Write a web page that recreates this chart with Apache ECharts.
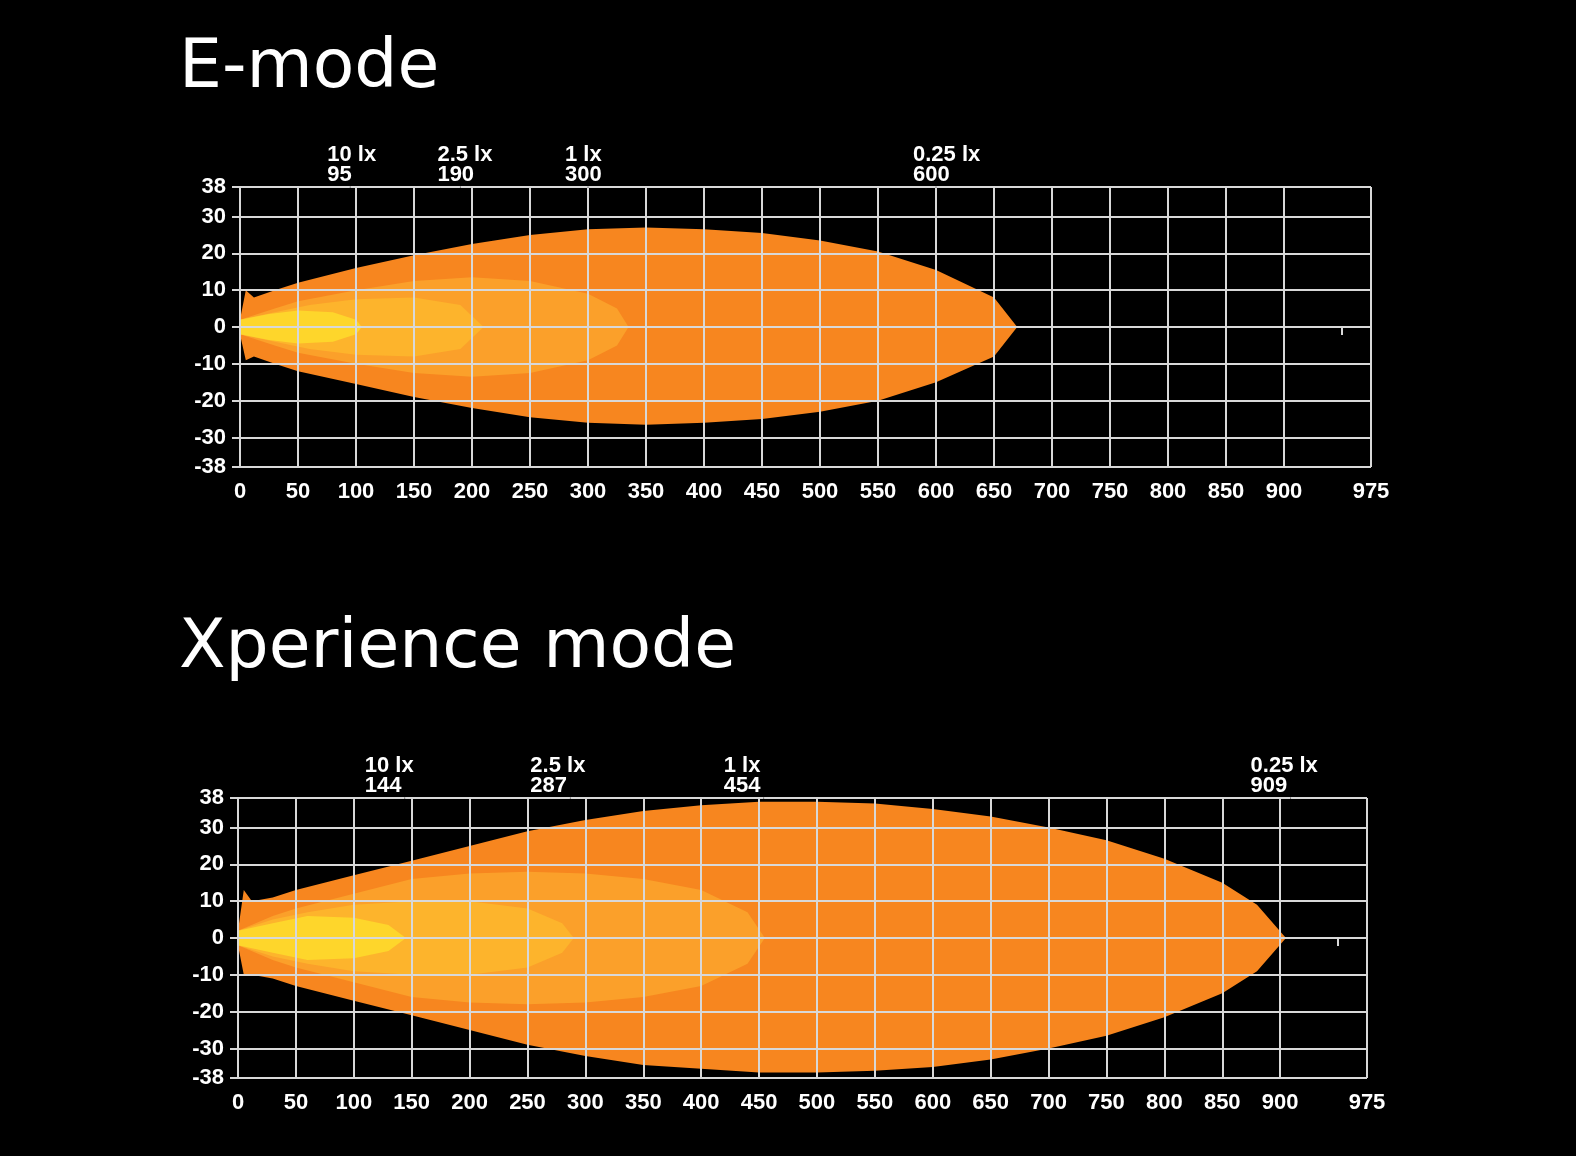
<!DOCTYPE html>
<html>
<head>
<meta charset="utf-8">
<script src="https://cdn.jsdelivr.net/npm/echarts@6/dist/echarts.min.js"></script>
<style>
html, body { margin: 0; padding: 0; background: #000; }
#chart { width: 1576px; height: 1156px; }
</style>
</head>
<body>
<div id="chart"></div>
<script>
// contour profiles: [distance, upper half width, lower half width]
var eOuter = [[0,2,-2],[5,10,-9],[12,8,-8],[30,10,-10],[50,12,-12],[100,16,-15.5],[150,19.5,-19],[200,22.5,-22],[250,25,-24.5],[300,26.5,-26],[350,27,-26.5],[400,26.5,-26],[450,25.5,-25],[500,23.5,-23],[550,20.5,-20],[600,15.5,-15],[650,8,-8],[670,0,0]];
var e1lx = [[0,2,-2],[30,5,-5],[50,7,-7],[100,10,-10],[150,12.5,-12.5],[200,13.5,-13.5],[250,12.5,-12.5],[300,9,-9],[325,5,-5],[335,0,0]];
var e25lx = [[0,2,-2],[30,4,-4],[60,6,-6],[100,7.5,-7.5],[150,8,-8],[190,6,-6],[210,0,0]];
var e10lx = [[0,2,-2],[25,3.5,-3.5],[50,4.5,-4.5],[80,4,-4],[100,2,-2],[105,0,0]];

var xOuter = [[0,2,-2],[5,13,-10],[12,10,-10],[30,11,-11],[50,13,-13],[100,17,-17],[150,21,-21],[200,25,-25],[250,29,-29],[300,32,-32],[350,34.5,-34.5],[400,36,-35.5],[450,37,-36.5],[500,37,-36.5],[550,36.5,-36],[600,35,-35],[650,33,-33],[700,30,-30],[750,26.5,-26.5],[800,21.5,-21.5],[850,15,-15],[880,9,-9],[905,0,0]];
var x1lx = [[0,2,-2],[30,6,-6],[50,8,-8],[100,12,-12],[150,16,-16],[200,17.5,-17.5],[250,18,-18],[300,17.5,-17.5],[350,16,-16],[400,13,-13],[440,7,-7],[455,0,0]];
var x25lx = [[0,2,-2],[30,5,-5],[60,7,-7],[100,9,-9],[150,10,-10],[200,10,-10],[250,8,-8],[280,4,-4],[290,0,0]];
var x10lx = [[0,2,-2],[30,4,-4],[60,6,-6],[100,5.5,-5.5],[130,3.5,-3.5],[145,0,0]];

var contourColors = ['#f7861f', '#fba02a', '#fdb42c', '#fed62b'];

var eNotes = [[95, '10 lx', '95'], [190, '2.5 lx', '190'], [300, '1 lx', '300'], [600, '0.25 lx', '600']];
var xNotes = [[144, '10 lx', '144'], [287, '2.5 lx', '287'], [454, '1 lx', '454'], [909, '0.25 lx', '909']];

var xTicks = [0,50,100,150,200,250,300,350,400,450,500,550,600,650,700,750,800,850,900,950,975];
var xLabels = [0,50,100,150,200,250,300,350,400,450,500,550,600,650,700,750,800,850,900,975];
var xGrid = [0,50,100,150,200,250,300,350,400,450,500,550,600,650,700,750,800,850,900,975];
var yTicks = [-38,-30,-20,-10,0,10,20,30,38];

var labelFont = { color: '#fff', fontSize: 22, fontWeight: 'bold', fontFamily: 'Liberation Sans' };

function polygonSeries(profile, color, gi) {
    return {
        type: 'custom', xAxisIndex: gi, yAxisIndex: gi, silent: true, z: 2,
        data: [0],
        renderItem: function (params, api) {
            var pts = [];
            profile.forEach(function (p) { pts.push(api.coord([p[0], p[1]])); });
            for (var i = profile.length - 1; i >= 0; i--) pts.push(api.coord([profile[i][0], profile[i][2]]));
            return { type: 'polygon', shape: { points: pts }, style: { fill: color } };
        }
    };
}

function gridSeries(gi) {
    var lines = xGrid.map(function (v) { return { xAxis: v }; })
        .concat(yTicks.map(function (v) { return { yAxis: v }; }));
    return {
        type: 'line', xAxisIndex: gi, yAxisIndex: gi, data: [], z: 5,
        markLine: {
            silent: true, symbol: 'none', animation: false,
            label: { show: false },
            lineStyle: { color: '#d8d8d8', width: 2, type: 'solid' },
            data: lines
        }
    };
}

function noteSeries(notes, gi, shift) {
    return {
        type: 'scatter', xAxisIndex: gi, yAxisIndex: gi, symbolSize: 1, z: 6, silent: true,
        itemStyle: { color: '#000', opacity: 1 },
        data: notes.map(function (n) { return { value: [n[0], 38], name: n[1] + '\n' + n[2] }; }),
        label: {
            show: true, position: 'top', align: 'left', distance: 2, offset: [shift, 0],
            formatter: '{b}', color: '#ffffff', opacity: 1, fontSize: 22, fontWeight: 'bold',
            fontFamily: 'Liberation Sans', lineHeight: 20, textBorderWidth: 0
        }
    };
}

function xAxis(gi) {
    return {
        type: 'value', gridIndex: gi, min: 0, max: 975,
        axisLine: { show: false },
        axisTick: { show: true, customValues: xTicks, length: 8, lineStyle: { color: '#d8d8d8', width: 2 } },
        splitLine: { show: false },
        axisLabel: Object.assign({ customValues: xLabels, margin: 14 }, labelFont)
    };
}
function yAxis(gi) {
    return {
        type: 'value', gridIndex: gi, min: -38, max: 38,
        axisLine: { show: false },
        axisTick: { show: true, customValues: yTicks, length: 8, lineStyle: { color: '#d8d8d8', width: 2 } },
        splitLine: { show: false },
        axisLabel: Object.assign({ customValues: yTicks, margin: 14 }, labelFont)
    };
}

var series = [];
[eOuter, e1lx, e25lx, e10lx].forEach(function (p, i) { series.push(polygonSeries(p, contourColors[i], 0)); });
[xOuter, x1lx, x25lx, x10lx].forEach(function (p, i) { series.push(polygonSeries(p, contourColors[i], 1)); });
series.push(gridSeries(0), gridSeries(1), noteSeries(eNotes, 0, -23), noteSeries(xNotes, 1, -40));

var chart = echarts.init(document.getElementById('chart'));
chart.setOption({
    backgroundColor: '#000',
    animation: false,
    title: [
        { text: 'E-mode', left: 174, top: 30, textStyle: { color: '#fff', fontSize: 68, fontWeight: 'normal', fontFamily: 'DejaVu Sans' } },
        { text: 'Xperience mode', left: 174, top: 610, textStyle: { color: '#fff', fontSize: 68, fontWeight: 'normal', fontFamily: 'DejaVu Sans' } }
    ],
    grid: [
        { left: 240, right: 205, top: 187, height: 280 },
        { left: 238, right: 209, top: 798, height: 280 }
    ],
    xAxis: [xAxis(0), xAxis(1)],
    yAxis: [yAxis(0), yAxis(1)],
    series: series
});
</script>
</body>
</html>
